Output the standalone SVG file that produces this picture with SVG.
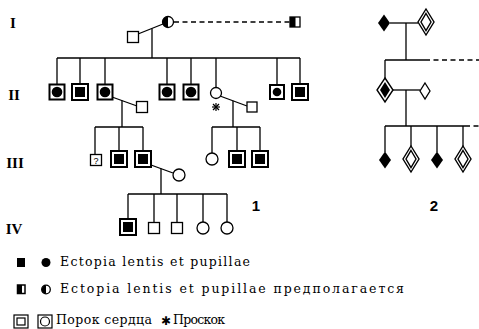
<svg xmlns="http://www.w3.org/2000/svg" width="479" height="329" viewBox="0 0 479 329">
<style>
.ln{stroke:#000;stroke-width:1.3;fill:none}
.dash{stroke-dasharray:5,3.5}
.open{fill:#fff;stroke:#000;stroke-width:1.3}
.frame{fill:#fff;stroke:#000;stroke-width:2}
.blk{fill:#000}
.gen{font-family:"Liberation Serif",serif;font-weight:bold;font-size:15px;fill:#000}
.num{font-family:"Liberation Sans",sans-serif;font-weight:bold;font-size:15px;fill:#000}
.leg{font-family:"DejaVu Serif","Liberation Serif",serif;font-size:12.5px;fill:#000}
</style>
<defs>
<g id="sqCirc"><rect x="-7.5" y="-7.5" width="15" height="15" class="frame"/><circle r="5.3" class="blk"/></g>
<g id="dblSq"><rect x="-8" y="-8" width="16" height="16" class="frame"/><rect x="-5" y="-5" width="10" height="10" class="blk"/></g>
<g id="sqOpen"><rect x="-5.5" y="-5.5" width="11" height="11" class="open"/></g>
<g id="cOpen"><circle r="6" class="open"/></g>
<g id="dFill"><polygon points="0,-8.5 6,0 0,8.5 -6,0" class="blk"/></g>
<g id="dDbl"><polygon points="0,-13 8,0 0,13 -8,0" fill="#fff" stroke="#000" stroke-width="1.4"/><polygon points="0,-8.5 5,0 0,8.5 -5,0" fill="#fff" stroke="#000" stroke-width="1.4"/></g>
</defs>

<g id="gen-labels">
<text class="gen" x="13" y="28" text-anchor="middle">I</text>
<text class="gen" x="14" y="100" text-anchor="middle">II</text>
<text class="gen" x="15" y="168" text-anchor="middle">III</text>
<text class="gen" x="14" y="234" text-anchor="middle">IV</text>
</g>

<g id="connectors">
<line class="ln" x1="138" y1="34" x2="163" y2="24"/>
<line class="ln" x1="152" y1="28.5" x2="152" y2="58"/>
<line class="ln dash" x1="174" y1="22" x2="290" y2="22"/>
<line class="ln" x1="57" y1="58" x2="300" y2="58"/>
<line class="ln" x1="57" y1="58" x2="57" y2="84"/>
<line class="ln" x1="80" y1="58" x2="80" y2="84"/>
<line class="ln" x1="105" y1="58" x2="105" y2="84"/>
<line class="ln" x1="167" y1="58" x2="167" y2="84"/>
<line class="ln" x1="191" y1="58" x2="191" y2="84"/>
<line class="ln" x1="216" y1="58" x2="216" y2="87"/>
<line class="ln" x1="277" y1="58" x2="277" y2="84"/>
<line class="ln" x1="300" y1="58" x2="300" y2="84"/>
<line class="ln" x1="112" y1="97" x2="137" y2="106"/>
<line class="ln" x1="122" y1="100.6" x2="122" y2="127"/>
<line class="ln" x1="95" y1="127" x2="143" y2="127"/>
<line class="ln" x1="95" y1="127" x2="95" y2="154"/>
<line class="ln" x1="119" y1="127" x2="119" y2="151"/>
<line class="ln" x1="143" y1="127" x2="143" y2="151"/>
<line class="ln" x1="220" y1="96" x2="247" y2="106"/>
<line class="ln" x1="233" y1="100.8" x2="233" y2="127"/>
<line class="ln" x1="212" y1="127" x2="260" y2="127"/>
<line class="ln" x1="212" y1="127" x2="212" y2="153"/>
<line class="ln" x1="237" y1="127" x2="237" y2="151"/>
<line class="ln" x1="260" y1="127" x2="260" y2="151"/>
<line class="ln" x1="151" y1="165" x2="173" y2="173"/>
<line class="ln" x1="161" y1="168.6" x2="161" y2="194"/>
<line class="ln" x1="128" y1="194" x2="227" y2="194"/>
<line class="ln" x1="128" y1="194" x2="128" y2="219"/>
<line class="ln" x1="154" y1="194" x2="154" y2="222"/>
<line class="ln" x1="177" y1="194" x2="177" y2="222"/>
<line class="ln" x1="203" y1="194" x2="203" y2="222"/>
<line class="ln" x1="227" y1="194" x2="227" y2="222"/>
<line class="ln" x1="390" y1="23" x2="418" y2="23" stroke-width="1.8"/>
<line class="ln" x1="406" y1="23" x2="406" y2="60"/>
<line class="ln" x1="385" y1="60" x2="425" y2="60"/>
<line class="ln dash" x1="425" y1="60" x2="479" y2="60"/>
<line class="ln" x1="385" y1="60" x2="385" y2="78"/>
<line class="ln" x1="393" y1="90" x2="420" y2="90"/>
<line class="ln" x1="406" y1="90" x2="406" y2="126"/>
<line class="ln" x1="385" y1="126" x2="465" y2="126"/>
<line class="ln dash" x1="465" y1="126" x2="479" y2="126"/>
<line class="ln" x1="385" y1="126" x2="385" y2="152"/>
<line class="ln" x1="411" y1="126" x2="411" y2="146"/>
<line class="ln" x1="437" y1="126" x2="437" y2="152"/>
<line class="ln" x1="463" y1="126" x2="463" y2="146"/>
</g>

<g id="I-1"><use href="#sqOpen" x="133" y="37"/></g>
<g id="I-2">
<circle cx="168" cy="22" r="5.5" class="open"/>
<path d="M168,16.5 A5.5,5.5 0 0 0 168,27.5 Z" class="blk"/>
</g>
<g id="I-3">
<rect x="290" y="17" width="10" height="10" class="open"/>
<rect x="290" y="17" width="5.5" height="10" class="blk"/>
</g>

<g id="II-1"><use href="#sqCirc" x="57" y="92"/></g>
<g id="II-2"><use href="#dblSq" x="80" y="92"/></g>
<g id="II-3"><use href="#sqCirc" x="105" y="92"/></g>
<g id="II-3s"><use href="#sqOpen" x="142" y="107"/></g>
<g id="II-4"><use href="#sqCirc" x="167" y="92"/></g>
<g id="II-5"><use href="#sqCirc" x="191" y="92"/></g>
<g id="II-6">
<circle cx="216" cy="93" r="5.5" class="open"/>
<g stroke="#000" stroke-width="1.2">
<line x1="216" y1="103" x2="216" y2="111"/>
<line x1="212" y1="107" x2="220" y2="107"/>
<line x1="213" y1="104" x2="219" y2="110"/>
<line x1="219" y1="104" x2="213" y2="110"/>
</g>
</g>
<g id="II-6s"><rect x="247" y="102" width="10" height="10" class="open"/></g>
<g id="II-7"><rect x="270" y="85" width="14" height="14" class="frame"/><circle cx="277" cy="92" r="4.3" class="blk"/></g>
<g id="II-8"><use href="#dblSq" x="300" y="92"/></g>

<g id="III-1"><use href="#sqOpen" x="96" y="160"/><text x="96" y="164" text-anchor="middle" font-family="Liberation Sans,sans-serif" font-size="9">?</text></g>
<g id="III-2"><use href="#dblSq" x="119" y="159"/></g>
<g id="III-3"><use href="#dblSq" x="143" y="159"/></g>
<g id="III-3s"><use href="#cOpen" x="179" y="175"/></g>
<g id="III-4"><use href="#cOpen" x="212" y="159"/></g>
<g id="III-5"><use href="#dblSq" x="237" y="159"/></g>
<g id="III-6"><use href="#dblSq" x="260" y="159"/></g>

<g id="IV-1"><use href="#dblSq" x="128" y="227"/></g>
<g id="IV-2"><use href="#sqOpen" x="154" y="228"/></g>
<g id="IV-3"><use href="#sqOpen" x="177" y="228"/></g>
<g id="IV-4"><use href="#cOpen" x="203" y="228"/></g>
<g id="IV-5"><use href="#cOpen" x="227" y="228"/></g>

<g id="f2-1"><use href="#dFill" x="384" y="23"/></g>
<g id="f2-2"><use href="#dDbl" x="426" y="22"/></g>
<g id="f2-3"><polygon points="385,78 393,90 385,102 377,90" fill="#fff" stroke="#000" stroke-width="1.4"/><polygon points="385,82 390,90 385,98 380,90" class="blk"/></g>
<g id="f2-4"><polygon points="425,83 430,91 425,99 420,91" class="open"/></g>
<g id="f2-5"><use href="#dFill" x="385" y="160"/></g>
<g id="f2-6"><use href="#dDbl" x="411" y="159"/></g>
<g id="f2-7"><use href="#dFill" x="437" y="160"/></g>
<g id="f2-8"><use href="#dDbl" x="463" y="159"/></g>

<g id="fig-numbers">
<text class="num" x="256" y="211" text-anchor="middle">1</text>
<text class="num" x="434" y="211" text-anchor="middle">2</text>
</g>

<g id="legend">
<rect x="17" y="258" width="8" height="9" class="blk"/>
<circle cx="46" cy="262.5" r="4.5" class="blk"/>
<text class="leg" x="60" y="266" textLength="190" lengthAdjust="spacing">Ectopia lentis et pupillae</text>
<rect x="17.5" y="285" width="7.5" height="8.5" fill="#fff" stroke="#000" stroke-width="1.5"/>
<rect x="17.5" y="285" width="4.5" height="8.5" class="blk"/>
<circle cx="46" cy="289.5" r="4.3" fill="#fff" stroke="#000" stroke-width="1.3"/>
<path d="M46,285.2 A4.3,4.3 0 0 0 46,293.8 Z" class="blk"/>
<text class="leg" x="60" y="293" textLength="344" lengthAdjust="spacing">Ectopia lentis et pupillae предполагается</text>
<rect x="14" y="315" width="14" height="13" fill="#fff" stroke="#000" stroke-width="1.2"/>
<rect x="17" y="318" width="8" height="7" fill="#fff" stroke="#000" stroke-width="1.2"/>
<rect x="38" y="315" width="14" height="13" fill="#fff" stroke="#000" stroke-width="1.2"/>
<circle cx="45" cy="321.5" r="4.5" fill="#fff" stroke="#000" stroke-width="1.2"/>
<text class="leg" x="56" y="324" textLength="96" lengthAdjust="spacing">Порок сердца</text>
<text x="166" y="325" text-anchor="middle" font-family="DejaVu Sans,sans-serif" font-size="12">✱</text>
<text class="leg" x="173" y="324" textLength="52" lengthAdjust="spacing">Проскок</text>
</g>
</svg>
